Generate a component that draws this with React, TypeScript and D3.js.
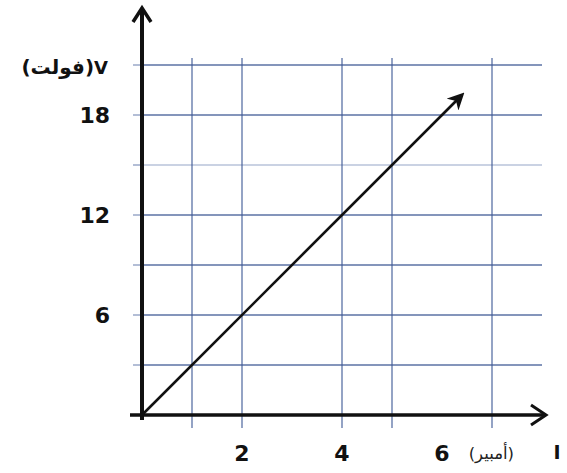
import React from "react";
import * as d3 from "d3";

const W = 567;
const H = 473;

// data
const xTickLabels = [2, 4, 6];
const yTickLabels = [6, 12, 18];
const verticalGrid = [1, 2, 4, 5, 7];
const horizontalGrid = [3, 6, 9, 12, 15, 18, 21];
const faintHorizontal = [15];
const currentI = [0, 6.4];
const voltageV = [0, 19.2];
const xTitle = "I";
const xUnit = "(أمبير)";
const yTitle = "V";
const yUnit = "(فولت)";

export default function App() {
  const x = d3.scaleLinear().domain([0, 7]).range([142, 492]);
  const y = d3.scaleLinear().domain([0, 21]).range([415, 65]);
  const pts: [number, number][] = currentI.map((c, i) => [c, voltageV[i]]);
  const line = d3
    .line<[number, number]>()
    .x((d) => x(d[0]))
    .y((d) => y(d[1]));
  const gridColor = "#3f5a96";
  const numFont = "'DejaVu Sans', sans-serif";
  const x0 = x(0);
  const y0 = y(0);
  return (
    <svg
      width={W}
      height={H}
      style={{ position: "absolute", left: 0, top: 0, background: "#fff" }}
    >
      <defs>
        <marker
          id="lineArrow"
          viewBox="0 0 10 10"
          refX="8"
          refY="5"
          markerWidth="6.5"
          markerHeight="6.5"
          orient="auto"
          markerUnits="strokeWidth"
        >
          <path d="M0,0 L10,5 L0,10 L3,5 Z" fill="#111" />
        </marker>
      </defs>
      {/* horizontal grid */}
      {horizontalGrid.map((v) => (
        <line
          key={"h" + v}
          x1={x0}
          x2={542}
          y1={y(v)}
          y2={y(v)}
          stroke={faintHorizontal.includes(v) ? "#b9c3da" : gridColor}
          strokeWidth={1.3}
          opacity={faintHorizontal.includes(v) ? 1 : 0.85}
        />
      ))}
      {/* vertical grid */}
      {verticalGrid.map((v) => (
        <line
          key={"v" + v}
          x1={x(v)}
          x2={x(v)}
          y1={58}
          y2={428}
          stroke={gridColor}
          strokeWidth={1.3}
          opacity={0.85}
        />
      ))}
      {/* small ticks left of y axis */}
      {horizontalGrid.map((v) => (
        <line
          key={"t" + v}
          x1={x0 - 9}
          x2={x0}
          y1={y(v)}
          y2={y(v)}
          stroke={gridColor}
          strokeWidth={1.3}
          opacity={0.6}
        />
      ))}
      {/* axes */}
      <line x1={x0} x2={x0} y1={420} y2={9} stroke="#111" strokeWidth={4} />
      <path
        d={`M${x0 - 9},${22} L${x0},${8} L${x0 + 9},${22}`}
        fill="none"
        stroke="#111"
        strokeWidth={3.5}
        strokeLinejoin="miter"
      />
      <line x1={130} x2={545} y1={y0} y2={y0} stroke="#111" strokeWidth={3.5} />
      <path
        d={`M${531},${y0 - 10} L${546},${y0} L${531},${y0 + 10}`}
        fill="none"
        stroke="#111"
        strokeWidth={3}
      />
      {/* data line */}
      <path
        d={line(pts) || ""}
        fill="none"
        stroke="#111"
        strokeWidth={2.6}
        markerEnd="url(#lineArrow)"
      />
      {/* y tick labels */}
      {yTickLabels.map((v) => (
        <text
          key={"yl" + v}
          x={110}
          y={y(v) + 2}
          textAnchor="end"
          dominantBaseline="middle"
          fontFamily={numFont}
          fontWeight="bold"
          fontSize={22}
          fill="#111"
        >
          {v}
        </text>
      ))}
      {/* x tick labels */}
      {xTickLabels.map((v) => (
        <text
          key={"xl" + v}
          x={x(v)}
          y={461}
          textAnchor="middle"
          fontFamily={numFont}
          fontWeight="bold"
          fontSize={22}
          fill="#111"
        >
          {v}
        </text>
      ))}
      {/* y title */}
      <text
        x={108}
        y={74}
        textAnchor="end"
        fontFamily={numFont}
        fontWeight="bold"
        fontSize={20}
        fill="#111"
        direction="ltr"
      >
        {yUnit}
        <tspan fontSize={18}>{yTitle}</tspan>
      </text>
      {/* x title */}
      <text
        x={514}
        y={459}
        textAnchor="end"
        fontFamily={numFont}
        fontSize={16.5}
        fill="#222"
        direction="ltr"
      >
        {xUnit}
      </text>
      <text
        x={557}
        y={459}
        textAnchor="middle"
        fontFamily={numFont}
        fontWeight="bold"
        fontSize={19}
        fill="#111"
      >
        {xTitle}
      </text>
    </svg>
  );
}
